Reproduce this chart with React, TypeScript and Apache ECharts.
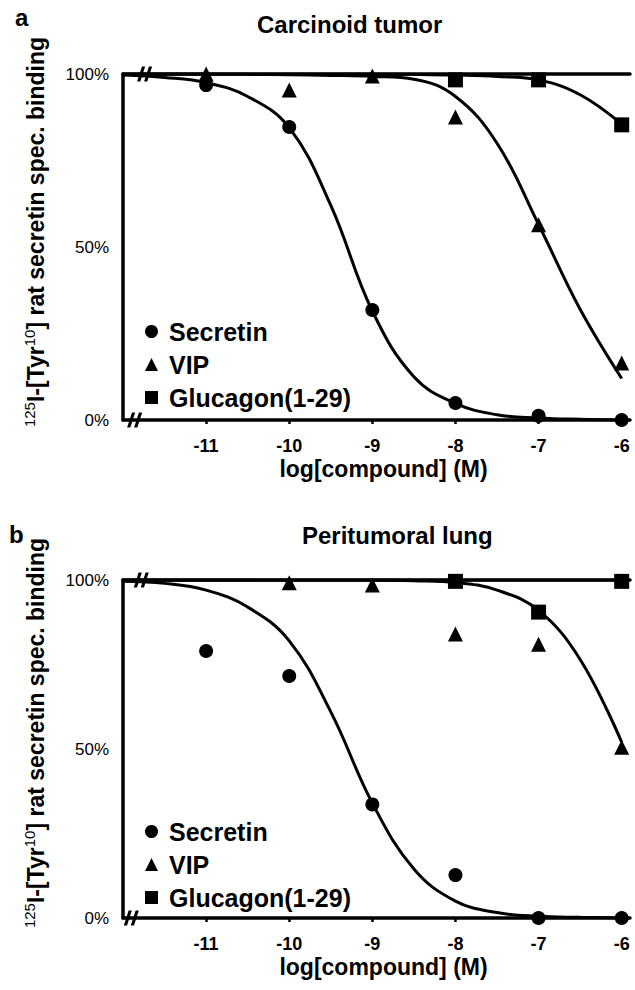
import React, { useEffect, useRef } from 'react';
import * as echarts from 'echarts';

const FONT = "'Liberation Sans', Arial, Helvetica, sans-serif";

// Measured concentrations (log M)
const DOSES = [-11, -10, -9, -8, -7, -6];
// Panel a: carcinoid tumor (% specific binding)
const secretinA = [96.8, 84.7, 31.8, 4.9, 1.2, 0];
const vipA = [100, 95.4, 99.4, 87.6, 56.4, 16.5];
const glucagonA = [null, null, null, 98.3, 98.3, 85.3];
// Panel b: peritumoral lung
const secretinB = [79, 71.6, 33.6, 12.7, 0, 0];
const vipB = [null, 99.2, 98.5, 84, 81, 50.5];
const glucagonB = [null, null, null, 99.6, 90.5, 99.6];

// Fitted curves
const FIT_X = [-12, -11.5, -11, -10.5, -10, -9.5, -9, -8.5, -8, -7.5, -7, -6.5, -6];
const secretinFitA = [99.7, 99, 97.5, 93.5, 84.5, 62, 31.5, 12.5, 4.8, 1.5, 0.6, 0.2, 0];
const vipFitA = [100, 100, 100, 99.9, 99.8, 99.6, 99.3, 98.5, 93.5, 80, 56.5, 32, 12];
const glucagonFitA = [100, 100, 100, 100, 100, 100, 100, 99.9, 99.7, 99.3, 98.3, 94, 85.5];
const secretinFitB = [99.6, 99, 97, 92, 82, 61, 34, 14.5, 5, 1.6, 0.5, 0.2, 0];
const vipFitB = [100, 100, 100, 100, 100, 100, 100, 99.8, 99.3, 97, 91, 76.5, 52];
const glucagonFitB = [100, 100, 100, 100, 100, 100, 100, 100, 100, 100, 100, 100, 100];

// Axis ranges and ticks
const X_MIN = -12;
const X_MAX = -5.9;
const X_TICKS = [-11, -10, -9, -8, -7, -6];
const Y_TICKS = [0, 50, 100];
// axis-break positions (log M) on the top line and the x axis
const BREAKS_A = [-11.74, -11.86];
const BREAKS_B = [-11.78, -11.9];

const NAMES = ['Secretin', 'VIP', 'Glucagon(1-29)'];
const SYMBOLS = ['circle', 'triangle', 'rect'];
const SYMBOL_SIZES = [14, 15, 15];

const BREAK_PATH = 'path://M0,14 L3,14 L7.5,0 L4.5,0 Z M6.5,14 L9.5,14 L14,0 L11,0 Z';

const pair = (xs: number[], ys: (number | null)[]) =>
  xs.map((x, i) => [x, ys[i]]).filter((p) => p[1] !== null);

function panelSeries(
  xIdx: number,
  yIdx: number,
  points: (number | null)[][],
  fits: number[][],
  breaks: number[]
) {
  const out: any[] = [];
  fits.forEach((f, i) => {
    out.push({
      type: 'line',
      name: NAMES[i] + ' fit',
      xAxisIndex: xIdx,
      yAxisIndex: yIdx,
      data: pair(FIT_X, f),
      smooth: 0.4,
      showSymbol: false,
      symbol: 'none',
      lineStyle: { color: '#000', width: 3 },
      z: 2,
      silent: true,
    });
  });
  points.forEach((p, i) => {
    out.push({
      type: 'scatter',
      name: NAMES[i],
      xAxisIndex: xIdx,
      yAxisIndex: yIdx,
      data: pair(DOSES, p),
      symbol: SYMBOLS[i],
      symbolSize: SYMBOL_SIZES[i],
      itemStyle: { color: '#000', opacity: 1 },
      z: 4,
      markPoint:
        i === 0
          ? {
              symbol: BREAK_PATH,
              symbolSize: [15, 15],
              itemStyle: { color: '#000', opacity: 1 },
              label: { show: false },
              silent: true,
              data: [{ coord: [breaks[0], 100] }, { coord: [breaks[1], 0] }],
            }
          : undefined,
    });
  });
  return out;
}

function xAxes(grid: number) {
  return [
    {
      type: 'value',
      gridIndex: grid,
      min: X_MIN,
      max: X_MAX,
      interval: 1,
      position: 'bottom',
      name: 'log[compound] (M)',
      nameLocation: 'middle',
      nameGap: 37,
      nameTextStyle: {
        fontFamily: FONT,
        fontSize: 23,
        fontWeight: 'bold',
        color: '#000',
        padding: [0, 0, 0, 14],
      },
      axisLine: { show: true, onZero: false, lineStyle: { color: '#000', width: 3.5 } },
      axisTick: {
        show: true,
        length: 4,
        customValues: X_TICKS,
        lineStyle: { color: '#000', width: 2.5 },
      },
      axisLabel: {
        show: true,
        customValues: X_TICKS,
        margin: 17,
        fontFamily: FONT,
        fontSize: 18,
        fontWeight: 'bold',
        color: '#000',
        formatter: (v: number) => (X_TICKS.indexOf(v) >= 0 ? String(v) : ''),
      },
      splitLine: { show: false },
    },
    {
      type: 'value',
      gridIndex: grid,
      min: X_MIN,
      max: X_MAX,
      interval: 1,
      position: 'top',
      axisLine: { show: true, onZero: false, lineStyle: { color: '#000', width: 3.5 } },
      axisTick: { show: false },
      axisLabel: { show: false },
      splitLine: { show: false },
    },
  ];
}

function yAxis(grid: number) {
  return {
    type: 'value',
    gridIndex: grid,
    min: 0,
    max: 100,
    interval: 50,
    axisLine: { show: true, onZero: false, lineStyle: { color: '#000', width: 3.5 } },
    axisTick: { show: false },
    axisLabel: {
      show: true,
      customValues: Y_TICKS,
      margin: 14,
      fontFamily: FONT,
      fontSize: 17,
      color: '#000',
      formatter: '{value}%',
    },
    splitLine: { show: false },
  };
}

function legend(top: number) {
  return {
    orient: 'vertical',
    left: 140,
    top,
    itemWidth: 13,
    itemHeight: 13,
    itemGap: 8,
    selectedMode: false,
    data: NAMES.map((n, i) => ({ name: n, icon: SYMBOLS[i], itemStyle: { color: '#000', opacity: 1 } })),
    textStyle: {
      fontFamily: FONT,
      fontSize: 25,
      fontWeight: 'bold',
      color: '#000',
      padding: [0, 0, 0, 6],
    },
  };
}

function yLabel(y: number) {
  const rich = {
    s: { fontFamily: FONT, fontSize: 15, fontWeight: 'normal', fill: '#000', color: '#000', verticalAlign: 'top', lineHeight: 28 },
    b: { fontFamily: FONT, fontSize: 23, fontWeight: 'bold', fill: '#000', color: '#000', lineHeight: 28 },
  };
  return {
    type: 'text',
    x: 36,
    y,
    rotation: Math.PI / 2,
    style: {
      text: '{s|125}{b|I-[Tyr}{s|10}{b|] rat secretin spec. binding}',
      rich,
      align: 'center',
      verticalAlign: 'middle',
      textAlign: 'center',
      textVerticalAlign: 'middle',
      fill: '#000',
    },
  };
}

function label(text: string, x: number, y: number, size: number) {
  return {
    type: 'text',
    x,
    y,
    style: {
      text,
      fontFamily: FONT,
      fontSize: size,
      fontWeight: 'bold',
      fill: '#000',
      align: 'left',
      verticalAlign: 'middle',
      textAlign: 'left',
      textVerticalAlign: 'middle',
    },
  };
}

export default function App() {
  const ref = useRef<HTMLDivElement>(null);
  useEffect(() => {
    if (!ref.current) return;
    const chart = echarts.init(ref.current, null, { renderer: 'svg' });
    const option: any = {
      animation: false,
      backgroundColor: '#fff',
      grid: [
        { left: 123, top: 74, width: 507, height: 346 },
        { left: 123, top: 580, width: 507, height: 338 },
      ],
      xAxis: [...xAxes(0), ...xAxes(1)],
      yAxis: [yAxis(0), yAxis(1)],
      legend: [legend(314), legend(814)],
      series: [
        ...panelSeries(0, 0, [secretinA, vipA, glucagonA], [secretinFitA, vipFitA, glucagonFitA], BREAKS_A),
        ...panelSeries(2, 1, [secretinB, vipB, glucagonB], [secretinFitB, vipFitB, glucagonFitB], BREAKS_B),
      ],
      graphic: [
        label('a', 15, 17, 24),
        label('Carcinoid tumor', 257, 24, 24),
        label('b', 9, 534, 24),
        label('Peritumoral lung', 302, 535, 24),
        yLabel(232),
        yLabel(733),
      ],
    };
    chart.setOption(option);
    return () => chart.dispose();
  }, []);
  return (
    <div
      ref={ref}
      style={{ position: 'fixed', left: 0, top: 0, width: 635, height: 990, background: '#fff' }}
    />
  );
}
